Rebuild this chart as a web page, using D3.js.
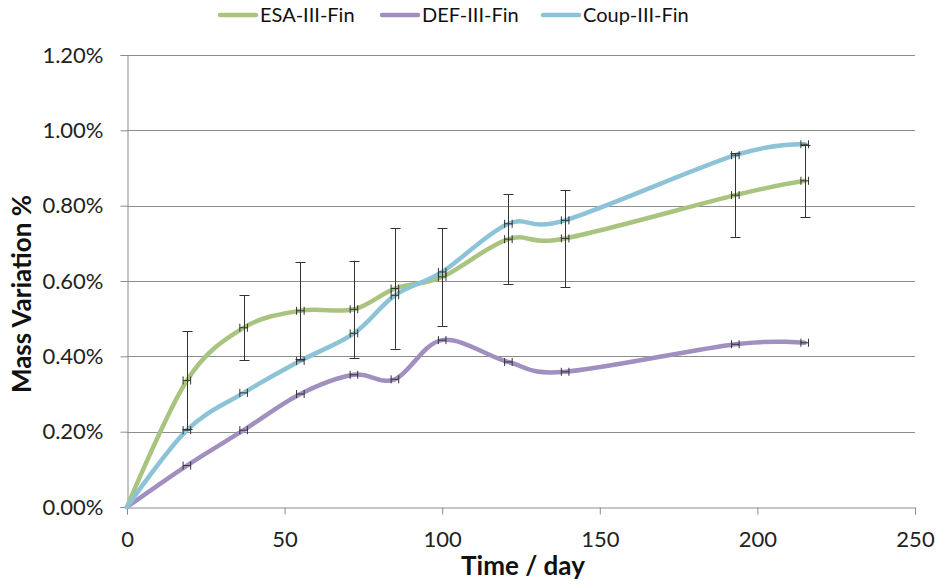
<!DOCTYPE html>
<html>
<head>
<meta charset="utf-8">
<script src="https://cdn.jsdelivr.net/npm/d3@7"></script>
<style>
  html, body { margin: 0; padding: 0; background: #fff; }
  svg { display: block; font-family: Lato, "Open Sans", sans-serif; }
</style>
</head>
<body>
<svg id="chart" width="938" height="585"></svg>
<script>
// ---- Data ----
const days = [0, 19, 37, 55, 72, 85, 100, 121, 139, 193, 215];
const esaValues  = [0, 0.336, 0.476, 0.521, 0.525, 0.580, 0.611, 0.711, 0.713, 0.828, 0.866];
const esaErrors  = [0, 0.130, 0.086, 0.129, 0.129, 0.160, 0.130, 0.120, 0.129, 0.111, 0.096];
const defValues  = [0, 0.110, 0.204, 0.300, 0.351, 0.339, 0.443, 0.385, 0.359, 0.432, 0.436];
const coupValues = [0, 0.204, 0.303, 0.388, 0.461, 0.562, 0.624, 0.752, 0.761, 0.934, 0.963];
const xErrorDays = 1.2;
const seriesNames = ["ESA-III-Fin", "DEF-III-Fin", "Coup-III-Fin"];
const seriesColors = ["#A9C47F", "#A08FBF", "#8DC3D6"];
const yTicks = [0, 0.2, 0.4, 0.6, 0.8, 1.0, 1.2];
const xTicks = [0, 50, 100, 150, 200, 250];

const series = [
  { name: seriesNames[0], values: esaValues, errors: esaErrors, color: seriesColors[0] },
  { name: seriesNames[1], values: defValues, errors: null, color: seriesColors[1] },
  { name: seriesNames[2], values: coupValues, errors: null, color: seriesColors[2] }
];

const svg = d3.select("#chart");
const plotLeft = 127, plotRight = 915, plotTop = 55, plotBottom = 507;

const x = d3.scaleLinear().domain([0, 250]).range([plotLeft, plotRight]);
const y = d3.scaleLinear().domain([0, 1.2]).range([plotBottom, plotTop]);

// gridlines
svg.append("g")
  .selectAll("line")
  .data(yTicks.filter(d => d > 0))
  .join("line")
  .attr("x1", plotLeft).attr("x2", plotRight)
  .attr("y1", d => Math.round(y(d)) + 0.5).attr("y2", d => Math.round(y(d)) + 0.5)
  .attr("stroke", "#8c8c8c").attr("stroke-width", 1);

// y axis
const yAxis = svg.append("g")
  .attr("transform", `translate(${plotLeft + 0.5},0)`)
  .call(d3.axisLeft(y).tickValues(yTicks).tickSize(7).tickPadding(17)
    .tickFormat(d => d.toFixed(2) + "%"));
yAxis.select(".domain").attr("stroke", "#8c8c8c");
yAxis.selectAll(".tick line").attr("stroke", "#8c8c8c");
yAxis.selectAll(".tick text").attr("font-size", 22).attr("fill", "#222")
  .attr("font-family", "Lato, sans-serif");

// x axis
const xAxis = svg.append("g")
  .attr("transform", `translate(0,${plotBottom + 0.5})`)
  .call(d3.axisBottom(x).tickValues(xTicks).tickSize(7).tickPadding(17));
xAxis.select(".domain").attr("stroke", "#8c8c8c");
xAxis.selectAll(".tick line").attr("stroke", "#8c8c8c");
xAxis.selectAll(".tick text").attr("font-size", 22).attr("fill", "#222")
  .attr("font-family", "Lato, sans-serif");

// axis titles
svg.append("text")
  .attr("x", (plotLeft + plotRight) / 2 + 2).attr("y", 575)
  .attr("text-anchor", "middle")
  .attr("font-size", 26).attr("font-weight", "bold").attr("fill", "#111")
  .text("Time / day");

svg.append("text")
  .attr("transform", `translate(31, ${(plotTop + plotBottom) / 2 + 13}) rotate(-90)`)
  .attr("text-anchor", "middle")
  .attr("font-size", 26).attr("font-weight", "bold").attr("fill", "#111")
  .text("Mass Variation %");

// lines
const line = d3.line()
  .x(d => x(d[0])).y(d => y(d[1]))
  .curve(d3.curveCardinal.tension(0));

series.forEach(s => {
  const pts = days.map((d, i) => [d, s.values[i]]);
  svg.append("path")
    .datum(pts)
    .attr("d", line)
    .attr("fill", "none")
    .attr("stroke", s.color)
    .attr("stroke-width", 4.5)
    .attr("stroke-linejoin", "round")
    .attr("stroke-linecap", "round");
});

// error bars
const eb = svg.append("g").attr("stroke", "#333").attr("stroke-width", 1).attr("fill", "none");
series.forEach(s => {
  days.forEach((d, i) => {
    if (d === 0) return;
    const cx = x(d), cy = y(s.values[i]);
    const x0 = x(d - xErrorDays), x1 = x(d + xErrorDays);
    eb.append("line").attr("x1", x0).attr("x2", x1).attr("y1", cy).attr("y2", cy);
    eb.append("line").attr("x1", x0).attr("x2", x0).attr("y1", cy - 4).attr("y2", cy + 4);
    eb.append("line").attr("x1", x1).attr("x2", x1).attr("y1", cy - 4).attr("y2", cy + 4);
    if (s.errors) {
      const yTop = y(s.values[i] + s.errors[i]), yBot = y(s.values[i] - s.errors[i]);
      const px = Math.round(cx) + 0.5;
      eb.append("line").attr("x1", px).attr("x2", px).attr("y1", yTop).attr("y2", yBot);
      eb.append("line").attr("x1", px - 5).attr("x2", px + 5).attr("y1", Math.round(yTop) + 0.5).attr("y2", Math.round(yTop) + 0.5);
      eb.append("line").attr("x1", px - 5).attr("x2", px + 5).attr("y1", Math.round(yBot) + 0.5).attr("y2", Math.round(yBot) + 0.5);
    }
  });
});

// legend
const legendX = [220, 382, 543];
const legend = svg.append("g");
series.forEach((s, i) => {
  legend.append("line")
    .attr("x1", legendX[i]).attr("x2", legendX[i] + 36)
    .attr("y1", 15).attr("y2", 15)
    .attr("stroke", s.color).attr("stroke-width", 4.5).attr("stroke-linecap", "round");
  legend.append("text")
    .attr("x", legendX[i] + 40).attr("y", 22)
    .attr("font-size", 20).attr("fill", "#111")
    .text(s.name);
});
</script>
</body>
</html>
